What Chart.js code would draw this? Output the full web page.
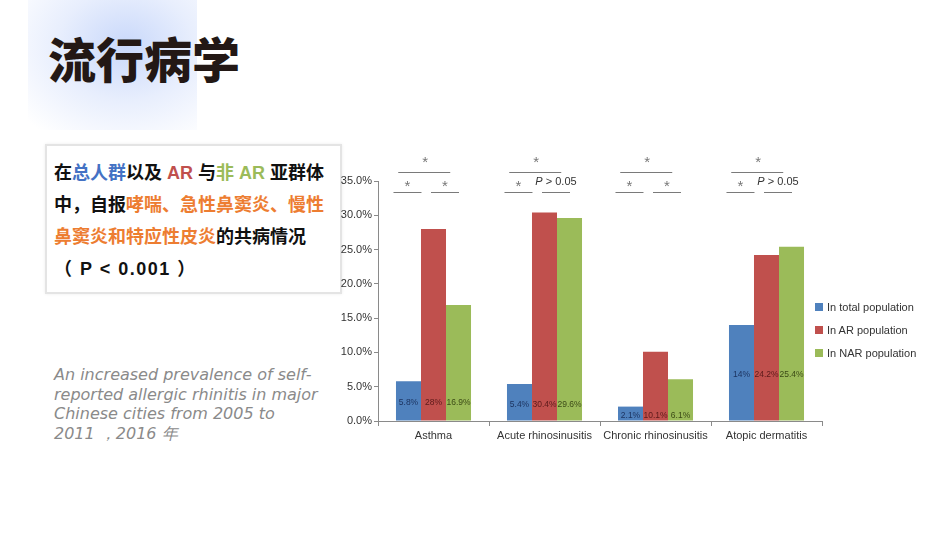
<!DOCTYPE html>
<html>
<head>
<meta charset="utf-8">
<script src="https://cdn.jsdelivr.net/npm/chart.js@4.4.0/dist/chart.umd.min.js"></script>
<style>
  body { margin: 0; width: 950px; height: 534px; background: #fff; position: relative; overflow: hidden; font-family: "Noto Sans CJK SC", sans-serif; }
  #glow { position: absolute; left: 28px; top: 0; width: 169px; height: 130px;
    background: radial-gradient(ellipse 80% 85% at 58% 35%, rgba(195,212,250,0.9), rgba(222,231,252,0.7) 50%, rgba(255,255,255,0) 100%); }
  #title { position: absolute; left: 48px; top: 33px; font-size: 48px; line-height: 48px; font-weight: 900; color: #231815; }
  #box { position: absolute; left: 45px; top: 144px; width: 286px; height: 135px; border: 2px solid #e4e4e4;
    box-shadow: 0 0 3px rgba(0,0,0,0.08); padding: 11px 0 0 7px; box-sizing: content-box; font-weight: 700; font-size: 18px; line-height: 32px; color: #111;
    font-family: "Liberation Sans", "Noto Sans CJK SC", sans-serif; }
  #box .b { color: #4472c4; } #box .r { color: #c0504d; } #box .g { color: #9bbb59; } #box .o { color: #ed7d31; }
  #box .p { letter-spacing: 1.5px; }
  #note { position: absolute; left: 54px; top: 365px; font-family: "DejaVu Sans", sans-serif; font-style: italic; font-size: 16px; line-height: 19.5px; color: #8a8a8a; white-space: nowrap; }
  #wrap { position: absolute; left: 335px; top: 150px; width: 600px; height: 300px; }
  #legend { position: absolute; left: 815px; top: 299px; font-family: "Liberation Sans", Arial, sans-serif; font-size: 11px; color: #333; }
  #legend div { height: 23px; line-height: 16px; white-space: nowrap; }
  #legend span { display: inline-block; width: 8px; height: 8px; margin-right: 4px; }
</style>
</head>
<body>
<div id="glow"></div>
<div id="title">流行病学</div>
<div id="box">在<span class="b">总人群</span>以及 <span class="r">AR</span> 与<span class="g">非 AR</span> 亚群体<br>中，自报<span class="o">哮喘、急性鼻窦炎、慢性</span><br><span class="o">鼻窦炎和特应性皮炎</span>的共病情况<br><span class="p">（ P &lt; 0.001 ）</span></div>
<div id="note">An increased prevalence of self-<br>reported allergic rhinitis in major<br>Chinese cities from 2005 to<br>2011 ，2016 年</div>
<div id="wrap"><canvas id="chart"></canvas></div>
<div id="legend"></div>
<script>
const categories = ['Asthma', 'Acute rhinosinusitis', 'Chronic rhinosinusitis', 'Atopic dermatitis'];
const seriesNames = ['In total population', 'In AR population', 'In NAR population'];
const totalValues = [5.8, 5.4, 2.1, 14];
const arValues = [28, 30.4, 10.1, 24.2];
const narValues = [16.9, 29.6, 6.1, 25.4];
const barLabels = [
  ['5.8%', '5.4%', '2.1%', '14%'],
  ['28%', '30.4%', '10.1%', '24.2%'],
  ['16.9%', '29.6%', '6.1%', '25.4%']
];
// significance: second lower mark, '*' or 'P > 0.05'
const lowerRight = ['*', 'P > 0.05', '*', 'P > 0.05'];
const yTicks = [0, 5, 10, 15, 20, 25, 30, 35];

const barColors = ['#4f81bd', '#c0504d', '#9bbb59'];
const labelColors = ['#1d3461', '#5c1a1a', '#3b4a16'];

document.getElementById('legend').innerHTML = seriesNames.map((n, i) =>
  '<div><span style="background:' + barColors[i] + '"></span>' + n + '</div>').join('');

const barText = {
  id: 'barText',
  afterDatasetsDraw(chart) {
    const ctx = chart.ctx, y = chart.scales.y;
    const series = [totalValues, arValues, narValues];
    ctx.save();
    ctx.font = '8.5px "Liberation Sans", Arial, sans-serif';
    ctx.textAlign = 'center';
    ctx.textBaseline = 'middle';
    categories.forEach((c, i) => {
      const low = Math.min(...series.map(s => s[i]));
      const py = y.getPixelForValue(low / 2) + 2;
      series.forEach((s, d) => {
        const bar = chart.getDatasetMeta(d).data[i];
        ctx.fillStyle = labelColors[d];
        ctx.fillText(barLabels[d][i], bar.x, py);
      });
    });
    ctx.restore();
  }
};

const sigMarks = {
  id: 'sigMarks',
  afterDraw(chart) {
    const ctx = chart.ctx, top = chart.chartArea.top;
    ctx.save();
    ctx.strokeStyle = '#7a7a7a';
    ctx.fillStyle = '#777';
    ctx.lineWidth = 1;
    const line = (cx, half, yy) => {
      ctx.beginPath(); ctx.moveTo(cx - half, yy + 0.5); ctx.lineTo(cx + half, yy + 0.5); ctx.stroke();
    };
    const star = (cx, yy) => {
      ctx.font = '15px "Liberation Sans", Arial, sans-serif';
      ctx.textAlign = 'center'; ctx.textBaseline = 'alphabetic';
      ctx.fillText('*', cx, yy + 9);
    };
    categories.forEach((c, i) => {
      const b0 = chart.getDatasetMeta(0).data[i].x;
      const b1 = chart.getDatasetMeta(1).data[i].x;
      const b2 = chart.getDatasetMeta(2).data[i].x;
      const c1 = b0 - 1, c2 = (b1 + b2) / 2 - 1, ct = (c1 + c2) / 2 - 2;
      line(c1, 14, top + 11);
      line(c2, 14, top + 11);
      line(ct, 26, top - 9);
      star(c1, top + 1);
      star(ct + 1, top - 23);
      if (lowerRight[i] === '*') {
        star(c2, top + 1);
      } else {
        ctx.textBaseline = 'middle';
        ctx.textAlign = 'left';
        ctx.font = 'italic 11px "Liberation Sans", Arial, sans-serif';
        const wP = ctx.measureText('P').width;
        ctx.font = '11px "Liberation Sans", Arial, sans-serif';
        const wR = ctx.measureText(' > 0.05').width;
        const x0 = c2 - (wP + wR) / 2;
        ctx.fillStyle = '#333';
        ctx.font = 'italic 11px "Liberation Sans", Arial, sans-serif';
        ctx.fillText('P', x0, top + 1);
        ctx.font = '11px "Liberation Sans", Arial, sans-serif';
        ctx.fillText(' > 0.05', x0 + wP, top + 1);
        ctx.fillStyle = '#777';
      }
    });
    ctx.restore();
  }
};

new Chart(document.getElementById('chart'), {
  type: 'bar',
  data: {
    labels: categories,
    datasets: [totalValues, arValues, narValues].map((v, i) => ({
      label: seriesNames[i],
      data: v,
      backgroundColor: barColors[i],
      categoryPercentage: 0.676,
      barPercentage: 1.0
    }))
  },
  options: {
    responsive: true,
    maintainAspectRatio: false,
    animation: false,
    layout: { padding: { top: 31, right: 113, left: 0, bottom: 0 } },
    scales: {
      x: {
        offset: true,
        grid: { offset: true, drawOnChartArea: false, tickLength: 5, color: '#8a8a8a' },
        border: { color: '#8a8a8a' },
        ticks: { color: '#333', padding: 3, font: { family: '"Liberation Sans", Arial, sans-serif', size: 11 } },
        afterFit(s) { s.height = 29; }
      },
      y: {
        min: 0, max: 35,
        afterBuildTicks(s) { s.ticks = yTicks.map(v => ({ value: v })); },
        grid: { drawOnChartArea: false, tickLength: 4, color: '#8a8a8a' },
        border: { color: '#8a8a8a' },
        ticks: { color: '#333', padding: 2, font: { family: '"Liberation Sans", Arial, sans-serif', size: 11 },
          callback: v => v.toFixed(1) + '%' },
        afterFit(s) { s.width = 43; }
      }
    },
    plugins: {
      legend: { display: false },
      tooltip: { enabled: false }
    }
  },
  plugins: [barText, sigMarks]
});
</script>
</body>
</html>
